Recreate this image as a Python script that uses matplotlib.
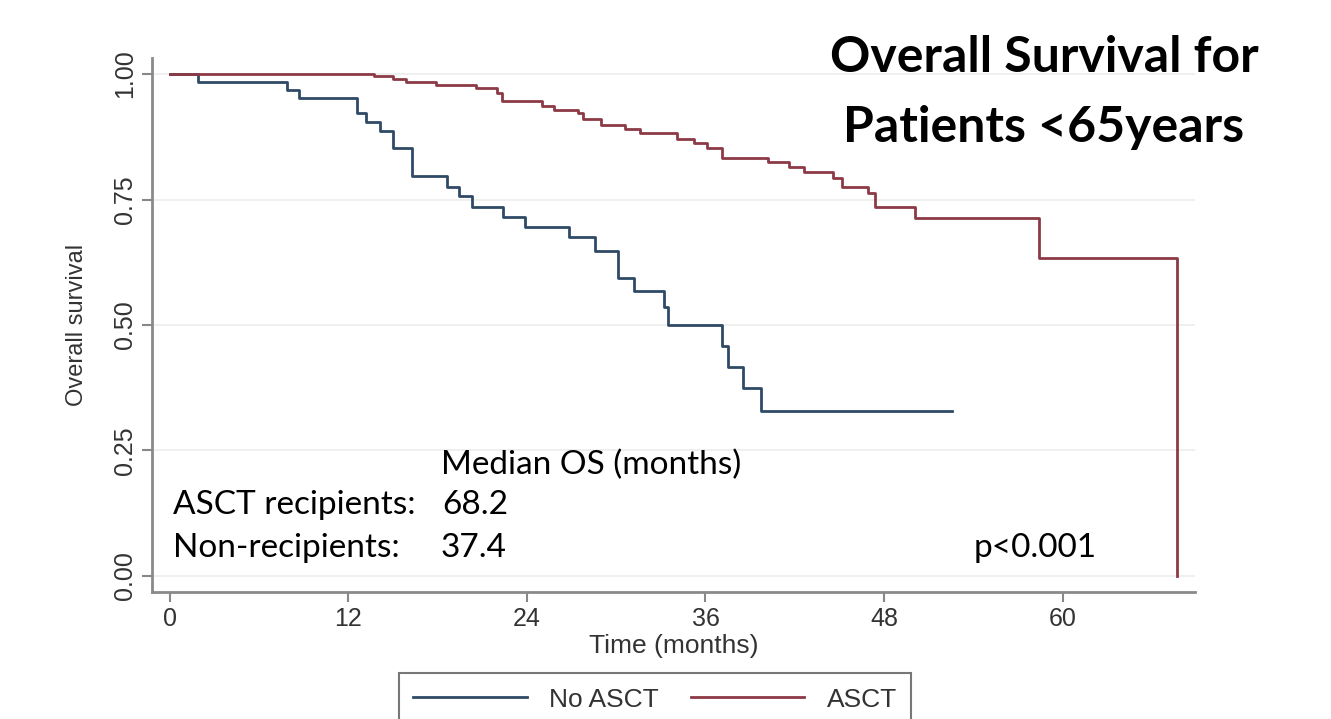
import matplotlib
matplotlib.use("Agg")
import matplotlib.pyplot as plt

# ---- data ----
no_asct_t = [0, 1.9, 7.9, 8.7, 12.6, 13.2, 14.1, 15.0, 16.3, 18.6, 19.4, 20.3,
             22.4, 23.9, 26.8, 28.6, 30.1, 31.2, 33.2, 33.5, 37.1, 37.5, 38.5,
             39.7, 52.6]
no_asct_s = [1.0, 0.984, 0.968, 0.952, 0.922, 0.904, 0.886, 0.852, 0.797, 0.775,
             0.757, 0.735, 0.715, 0.695, 0.675, 0.647, 0.594, 0.568, 0.536, 0.500,
             0.458, 0.417, 0.374, 0.329, 0.329]

asct_t = [0, 13.7, 15.0, 15.9, 17.9, 20.6, 22.0, 22.3, 25.0, 25.8, 27.4, 27.8,
          29.0, 30.6, 31.6, 34.1, 35.2, 36.1, 37.1, 40.2, 41.6, 42.6, 44.6, 45.2,
          46.9, 47.4, 50.1, 58.4, 67.7]
asct_s = [1.0, 0.996, 0.990, 0.984, 0.978, 0.972, 0.962, 0.946, 0.936, 0.928,
          0.922, 0.910, 0.898, 0.890, 0.882, 0.870, 0.862, 0.852, 0.833, 0.825,
          0.815, 0.805, 0.793, 0.775, 0.763, 0.735, 0.713, 0.633, 0.0]

x_ticks = [0, 12, 24, 36, 48, 60]
y_ticks = [0.00, 0.25, 0.50, 0.75, 1.00]
y_ticklabels = ["0.00", "0.25", "0.50", "0.75", "1.00"]

series_labels = ["No ASCT", "ASCT"]
colors = ["#2f4a66", "#8c3a45"]

title_lines = ["Overall Survival for", "Patients <65years"]
median_header = "Median OS (months)"
groups = ["ASCT recipients:", "Non-recipients:"]
medians = ["68.2", "37.4"]
pval = "p<0.001"

# ---- figure ----
fig = plt.figure(figsize=(13.31, 7.19), dpi=100)
ax = fig.add_axes([152/1331, 1-592/719, (1195-152)/1331, (592-58)/719])

ax.step(no_asct_t, no_asct_s, where="post", color=colors[0], lw=2.0,
        label=series_labels[0])
ax.step(asct_t, asct_s, where="post", color=colors[1], lw=2.0,
        label=series_labels[1])

ax.set_xlim(-1.2, 68.9)
ax.set_ylim(-0.032, 1.032)
ax.set_xticks(x_ticks)
ax.set_yticks(y_ticks)
ax.set_yticklabels(y_ticklabels, rotation=90, va="center")

sans = ["Liberation Sans", "DejaVu Sans"]
for lbl in ax.get_xticklabels() + ax.get_yticklabels():
    lbl.set_fontfamily(sans)
    lbl.set_fontsize(18)
    lbl.set_color("#333333")

ax.tick_params(axis="both", direction="out", length=7, width=1.5,
               color="#888888", pad=4)
ax.grid(axis="y", color="#ececec", lw=1.2)
ax.set_axisbelow(True)
for s in ["top", "right"]:
    ax.spines[s].set_visible(False)
for s in ["left", "bottom"]:
    ax.spines[s].set_color("#8a8a8a")
    ax.spines[s].set_linewidth(2)

ax.set_xlabel("Time (months)", fontsize=19, family=sans,
              color="#333333", labelpad=2)
ax.set_ylabel("Overall survival", fontsize=17, family=sans,
              color="#333333", labelpad=18)

# annotations
ann_font = ["Lato", "DejaVu Sans"]
fs = 24
ax.text(18.2, 0.221, median_header, fontsize=fs, family=ann_font, va="center", ha="left")
ax.text(0.2, 0.141, groups[0], fontsize=fs, family=ann_font, va="center", ha="left")
ax.text(18.3, 0.141, medians[0], fontsize=fs, family=ann_font, va="center", ha="left")
ax.text(0.2, 0.056, groups[1], fontsize=fs, family=ann_font, va="center", ha="left")
ax.text(18.2, 0.056, medians[1], fontsize=fs, family=ann_font, va="center", ha="left")
ax.text(54.0, 0.056, pval, fontsize=fs, family=ann_font, va="center", ha="left")

fig.text(1044/1331, 1-57/719, title_lines[0], fontsize=36, fontweight="bold",
         family=ann_font, ha="center", va="center")
fig.text(1044/1331, 1-127/719, title_lines[1], fontsize=36, fontweight="bold",
         family=ann_font, ha="center", va="center")

leg = ax.legend(loc="upper center", bbox_to_anchor=(655/1331, 1-673/719),
                bbox_transform=fig.transFigure, ncol=2, frameon=True,
                fancybox=False, edgecolor="#555555", handlelength=4.3,
                handletextpad=0.85, columnspacing=1.2, borderpad=0.55,
                borderaxespad=0.0, prop={"family": sans, "size": 19})
leg.get_frame().set_linewidth(1.5)
for t in leg.get_texts():
    t.set_color("#333333")

fig.savefig("out.png", dpi=100)
